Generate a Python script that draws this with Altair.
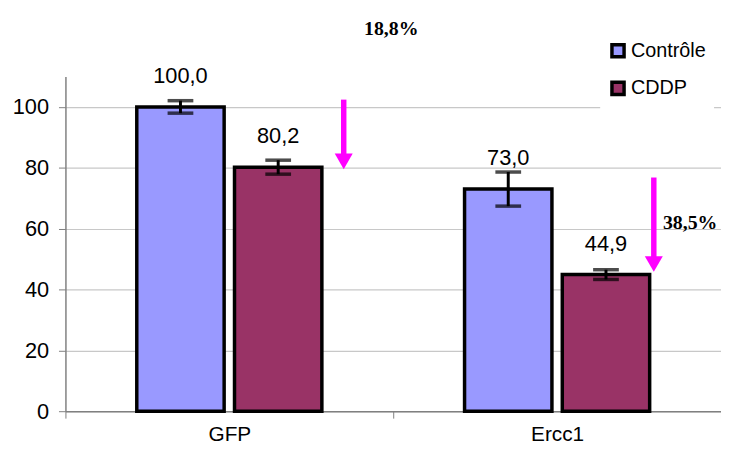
import altair as alt
import pandas as pd

genes = ["GFP", "GFP", "Ercc1", "Ercc1"]
conditions = ["Contrôle", "CDDP", "Contrôle", "CDDP"]
values = [100.0, 80.2, 73.0, 44.9]
errors = [2.05, 2.3, 5.6, 1.6]
labels = ["100,0", "80,2", "73,0", "44,9"]

gene_order = ["GFP", "Ercc1"]
cond_order = ["Contrôle", "CDDP"]
colors = ["#9999ff", "#993366"]

# annotation arrows (x in category-band units, 0..2 across plot)
arrow_x = [0.849, 1.795]
arrow_y_start = [102.4, 76.8]
arrow_y_head = [82.1, 48.4]
note_x = [0.994, 1.906]
note_y = [125.6, 61.8]
note_text = ["18,8%", "38,5%"]

df = pd.DataFrame({
    "gene": genes, "cond": conditions, "value": values,
    "lo": [v - e for v, e in zip(values, errors)],
    "hi": [v + e for v, e in zip(values, errors)],
    "label": labels,
})
arrows = pd.DataFrame({"ax": arrow_x, "y0": arrow_y_start, "y1": arrow_y_head})
notes = pd.DataFrame({"nx": note_x, "ny": note_y, "t": note_text})

FONT = "Liberation Sans"
yscale = alt.Scale(domain=[0, 110])
xenc = alt.X("gene:N", sort=gene_order, scale=alt.Scale(paddingInner=0, paddingOuter=0),
             axis=alt.Axis(title=None, labelAngle=0, labelFont=FONT, labelFontSize=21,
                           labelColor="black", labelPadding=6, tickBand="extent",
                           tickSize=7, tickColor="#808080", domainColor="#808080",
                           domainWidth=1.5, grid=False))
xoff = alt.XOffset("cond:N", sort=cond_order,
                   scale=alt.Scale(paddingInner=0.106, paddingOuter=0.73))

base = alt.Chart(df)

bars = base.mark_bar(stroke="black", strokeWidth=3.5).encode(
    x=xenc, xOffset=xoff,
    y=alt.Y("value:Q", scale=yscale,
            axis=alt.Axis(title=None, values=[0, 20, 40, 60, 80, 100], labelFont=FONT,
                          labelFontSize=22, labelColor="black", labelPadding=10,
                          tickSize=7, tickColor="#808080", domainColor="#808080",
                          domainWidth=1.5, gridColor="#c8c8c8", gridWidth=1.2)),
    color=alt.Color("cond:N", sort=cond_order,
                    scale=alt.Scale(domain=cond_order, range=colors),
                    legend=alt.Legend(title=None, orient="none", legendX=540, legendY=-44,
                                      symbolType="square", symbolSize=150,
                                      symbolStrokeColor="black", symbolStrokeWidth=3.5,
                                      labelFont=FONT, labelFontSize=20, labelColor="black",
                                      rowPadding=10, labelOffset=3, fillColor="white",
                                      padding=8)),
)

err = base.mark_rule(color="black", strokeWidth=3).encode(
    x=xenc, xOffset=xoff, y="lo:Q", y2="hi:Q")
cap_lo = base.mark_tick(color="black", thickness=3.5, size=26).encode(
    x=xenc, xOffset=xoff, y="lo:Q")
cap_hi = base.mark_tick(color="black", thickness=3.5, size=26).encode(
    x=xenc, xOffset=xoff, y="hi:Q")
text = base.mark_text(font=FONT, fontSize=22, color="black", dy=-24,
                      baseline="alphabetic").encode(
    x=xenc, xOffset=xoff, y="value:Q", text="label:N")

ax_scale = alt.Scale(domain=[0, 2], nice=False, zero=False)
shaft = alt.Chart(arrows).mark_rule(color="#ff00ff", strokeWidth=5.5).encode(
    x=alt.X("ax:Q", scale=ax_scale, axis=None),
    y=alt.Y("y0:Q", scale=yscale), y2="y1:Q")
head = alt.Chart(arrows).mark_point(shape="triangle-down", filled=True, opacity=1,
                                    color="#ff00ff", size=330).encode(
    x=alt.X("ax:Q", scale=ax_scale, axis=None),
    y=alt.Y("y1:Q", scale=yscale))
note = alt.Chart(notes).mark_text(font="Liberation Serif", fontSize=20,
                                  fontWeight="bold", color="black").encode(
    x=alt.X("nx:Q", scale=ax_scale, axis=None),
    y=alt.Y("ny:Q", scale=yscale), text="t:N")

main = alt.layer(bars, err, cap_lo, cap_hi, text)
annot = alt.layer(shaft, head, note)

chart = alt.layer(main, annot).resolve_scale(x="independent").properties(
    width=662, height=338,
    padding={"left": 58, "top": 67, "right": 0, "bottom": 36},
    autosize=alt.AutoSizeParams(type="none"),
).configure_view(stroke=None).configure_axis(labelFontWeight="normal")

chart.save("out.html", embed_options={"renderer": "svg", "actions": False})
